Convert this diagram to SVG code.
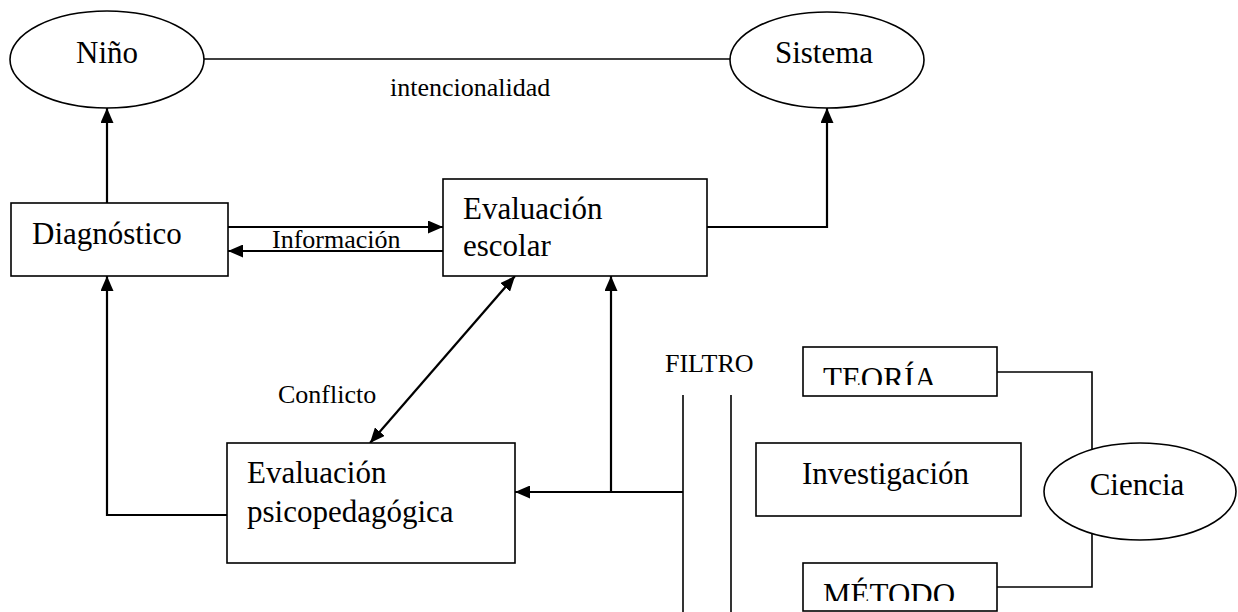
<svg xmlns="http://www.w3.org/2000/svg" width="1238" height="612" viewBox="0 0 1238 612">
<style>
.shape{fill:#fff;stroke:#000;stroke-width:1.6}
.line{fill:none;stroke:#000;stroke-width:1.6}
.arrow{fill:none;stroke:#000;stroke-width:2.2}
.big{font-family:"Liberation Serif","Times New Roman",serif;font-size:31px;fill:#000}
.small{font-family:"Liberation Serif","Times New Roman",serif;font-size:26px;fill:#000}
</style>
<defs>
<marker id="ah" markerUnits="userSpaceOnUse" markerWidth="15" markerHeight="13" refX="15" refY="6.5" orient="auto">
<path d="M0,0 L15,6.5 L0,13 Z" fill="#000"/>
</marker>
<marker id="ahs" markerUnits="userSpaceOnUse" markerWidth="15" markerHeight="13" refX="0" refY="6.5" orient="auto">
<path d="M15,0 L0,6.5 L15,13 Z" fill="#000"/>
</marker>
<clipPath id="clipTeoria"><rect x="800" y="345" width="200" height="40"/></clipPath>
<clipPath id="clipMetodo"><rect x="800" y="560" width="200" height="41"/></clipPath>
</defs>
<rect width="1238" height="612" fill="#fff"/>
<g id="connectors">
<line class="line" x1="203" y1="59" x2="730" y2="59"/>
<line class="arrow" x1="107" y1="203" x2="107" y2="108" marker-end="url(#ah)"/>
<polyline class="arrow" points="707,227 827,227 827,108" marker-end="url(#ah)"/>
<line class="arrow" x1="228" y1="227" x2="443" y2="227" marker-end="url(#ah)"/>
<line class="arrow" x1="443" y1="251" x2="228" y2="251" marker-end="url(#ah)"/>
<line class="arrow" x1="370" y1="443" x2="515" y2="276" marker-start="url(#ahs)" marker-end="url(#ah)"/>
<polyline class="arrow" points="227,515 107,515 107,276" marker-end="url(#ah)"/>
<line class="arrow" x1="683" y1="492" x2="515" y2="492" marker-end="url(#ah)"/>
<line class="arrow" x1="611" y1="492" x2="611" y2="276" marker-end="url(#ah)"/>
<line class="line" x1="683" y1="395" x2="683" y2="612"/>
<line class="line" x1="731" y1="395" x2="731" y2="612"/>
<polyline class="line" points="997,372 1092,372 1092,449"/>
<polyline class="line" points="1092,534 1092,587 997,587"/>
<text class="small" x="390" y="96">intencionalidad</text>
<text class="small" x="272" y="248">Información</text>
<text class="small" x="278" y="403">Conflicto</text>
<text class="small" x="665" y="372">FILTRO</text>
</g>
<g id="nino">
<ellipse class="shape" cx="107" cy="59.5" rx="97" ry="48.5"/>
<text class="big" x="107" y="63" text-anchor="middle">Niño</text>
</g>
<g id="sistema">
<ellipse class="shape" cx="827" cy="60" rx="97" ry="48"/>
<text class="big" x="824" y="63" text-anchor="middle">Sistema</text>
</g>
<g id="diagnostico">
<rect class="shape" x="11" y="203" width="217" height="73"/>
<text class="big" x="32" y="244">Diagnóstico</text>
</g>
<g id="evaluacion-escolar">
<rect class="shape" x="443" y="179" width="264" height="97"/>
<text class="big" x="463" y="219">Evaluación</text>
<text class="big" x="463" y="256">escolar</text>
</g>
<g id="evaluacion-psicopedagogica">
<rect class="shape" x="227" y="443" width="288" height="120"/>
<text class="big" x="247" y="483">Evaluación</text>
<text class="big" x="247" y="522">psicopedagógica</text>
</g>
<g id="teoria">
<rect class="shape" x="803" y="347" width="194" height="49"/>
<text class="big" x="823" y="389" clip-path="url(#clipTeoria)">TEORÍA</text>
</g>
<g id="investigacion">
<rect class="shape" x="756" y="443" width="265" height="73"/>
<text class="big" x="802" y="484">Investigación</text>
</g>
<g id="ciencia">
<ellipse class="shape" cx="1140" cy="491.5" rx="96" ry="48.5"/>
<text class="big" x="1137" y="495" text-anchor="middle">Ciencia</text>
</g>
<g id="metodo">
<rect class="shape" x="803" y="563" width="194" height="48"/>
<text class="big" x="823" y="605" clip-path="url(#clipMetodo)">MÉTODO</text>
</g>
</svg>
